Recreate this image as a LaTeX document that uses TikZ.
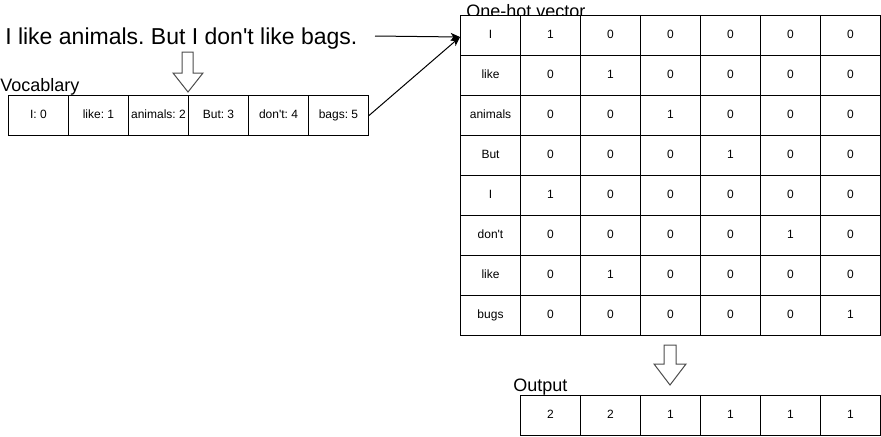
\documentclass[tikz,border=0pt]{standalone}
\usepackage{fontspec}
\setmainfont{Liberation Sans}
\usetikzlibrary{arrows.meta}
\frenchspacing
\begin{document}
\begin{tikzpicture}[x=0.75pt,y=-0.75pt,
  cell/.style={draw=black,fill=white,line width=0.75pt,minimum width=45pt,minimum height=30pt,inner sep=0pt,text height=6.5pt,text depth=1.8pt,font=\fontsize{9}{10}\selectfont,anchor=north west},
  title/.style={anchor=base west,inner sep=0pt,font=\fontsize{13.5}{15}\selectfont},
  big/.style={anchor=base west,inner sep=0pt,font=\fontsize{17.25}{20}\selectfont},
  conn/.style={draw=black,line width=0.75pt,-{Stealth[length=7pt,width=6pt,inset=2pt]}},
  hollow/.style={draw=black!70,fill=white,line width=0.75pt,line join=miter}]
\useasboundingbox (0,0) rectangle (881,436);
% texts
\node[big] (sent) at (5,44) {I like animals. But I don\textquotesingle t like bags.};
\node[title] (voc) at (0,91) {Vocablary};
\node[title] (oh) at (466,17) {One-hot vector};
\node[title] (out) at (513,391) {Output};
% vocabulary row
\foreach \t [count=\i from 0] in {I: 0,like: 1,animals: 2,But: 3,don\textquotesingle t: 4,bags: 5}{
  \node[cell] (v\i) at (8+60*\i,95) {\t};
}
% one-hot table
\foreach \w/\a/\b/\c/\d/\e/\f [count=\r from 0] in {I/1/0/0/0/0/0,like/0/1/0/0/0/0,animals/0/0/1/0/0/0,But/0/0/0/1/0/0,I/1/0/0/0/0/0,don\textquotesingle t/0/0/0/0/1/0,like/0/1/0/0/0/0,bugs/0/0/0/0/0/1}{
  \node[cell] (t\r-0) at (460,15+40*\r) {\w};
  \node[cell] (t\r-1) at (520,15+40*\r) {\a};
  \node[cell] (t\r-2) at (580,15+40*\r) {\b};
  \node[cell] (t\r-3) at (640,15+40*\r) {\c};
  \node[cell] (t\r-4) at (700,15+40*\r) {\d};
  \node[cell] (t\r-5) at (760,15+40*\r) {\e};
  \node[cell] (t\r-6) at (820,15+40*\r) {\f};
}
% output row
\foreach \t [count=\i from 0] in {2,2,1,1,1,1}{
  \node[cell] (o\i) at (520+60*\i,395) {\t};
}
% connectors
\coordinate (s1) at (375,36);
\coordinate (tgt) at (460,37);
\draw[conn] (s1) -- (tgt);
\draw[conn] (v5.east) -- (tgt);
% hollow arrows
\draw[hollow] (182,52) -- (193,52) -- (193,73) -- (203,73) -- (188,92) -- (173,73) -- (182,73) -- cycle;
\draw[hollow] (664,345) -- (676,345) -- (676,364) -- (686,364) -- (670,385) -- (654,364) -- (664,364) -- cycle;
\end{tikzpicture}
\end{document}
